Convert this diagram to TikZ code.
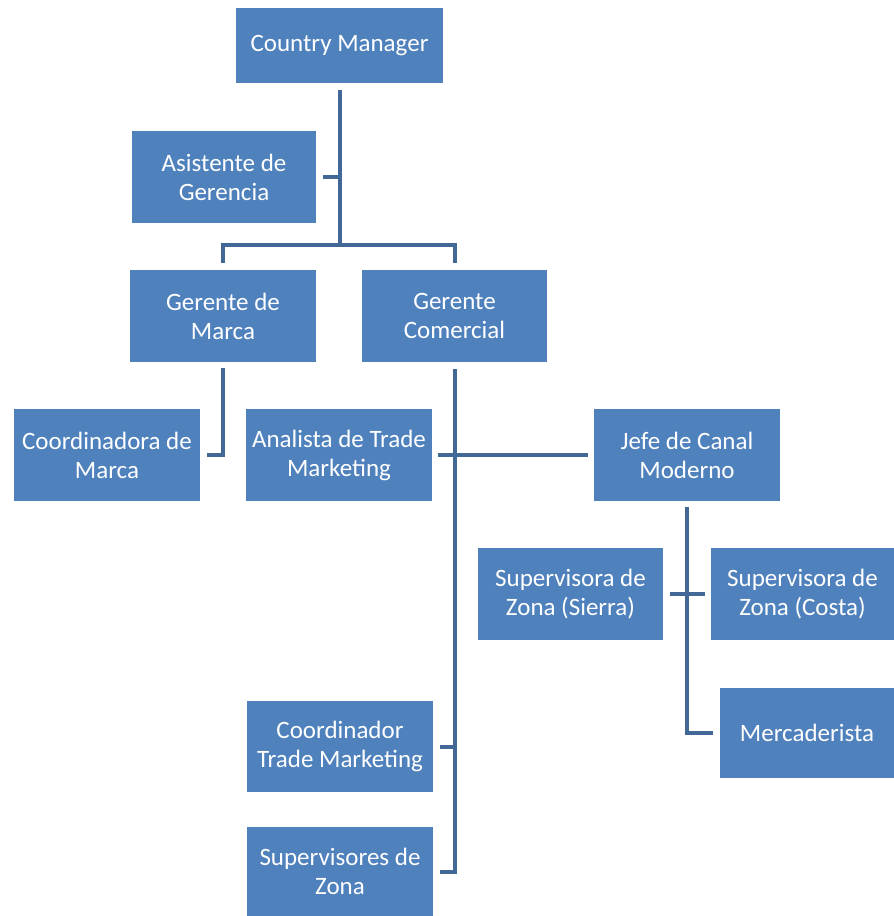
\documentclass[tikz,border=0pt]{standalone}
\usepackage{fontspec}
\setmainfont{Carlito}
\usepackage{tikz}
\usetikzlibrary{calc}
\definecolor{org_box}{RGB}{79, 129, 189}
\definecolor{org_line}{RGB}{66, 104, 152}
\tikzstyle{ob}=[rectangle,fill=org_box,draw=none,text=white,align=center,
  inner sep=0pt,minimum width=186pt,minimum height=92pt,
  font=\fontsize{25}{29}\selectfont]
\tikzstyle{ol}=[draw=org_line,line width=4pt]

\begin{document}
\begin{tikzpicture}[x=1pt, y=-1pt]
        \useasboundingbox (0,0) rectangle (894,916);
        \node[style=ob, minimum width=207pt, minimum height=75pt] (cm) at (339.5,45.5) {Country Manager};
        \node[style=ob, minimum width=184pt] (ag) at (224,177) {Asistente de\\Gerencia};
        \node[style=ob] (gm) at (223,316) {Gerente de\\Marca};
        \node[style=ob, minimum width=185pt] (gc) at (454.5,316) {Gerente\\Comercial};
        \node[style=ob] (cdm) at (107,455) {Coordinadora de\\Marca};
        \node[style=ob] (atm) at (339,455) {Analista de Trade\\Marketing};
        \node[style=ob] (jcm) at (687,455) {Jefe de Canal\\Moderno};
        \node[style=ob, minimum width=185pt] (szs) at (570.5,594) {Supervisora de\\Zona (Sierra)};
        \node[style=ob, minimum width=183pt] (szc) at (802.5,594) {Supervisora de\\Zona (Costa)};
        \node[style=ob, minimum width=174pt, minimum height=90pt] (mer) at (807,733) {Mercaderista};
        \node[style=ob, minimum height=91pt] (ctm) at (340,746.5) {Coordinador\\Trade Marketing};
        \node[style=ob, minimum height=89pt] (sdz) at (340,871.5) {Supervisores de\\Zona};
        \coordinate (bar) at (339.5,245);
        \draw[style=ol, shorten <=7pt] (cm.south) to (bar);
        \draw[style=ol, shorten <=7pt] (ag.east) to (ag.east -| bar);
        \draw[style=ol, shorten >=7pt] (bar) -| (gm.north);
        \draw[style=ol, shorten >=7pt] (bar) -| (gc.north);
        \draw[style=ol, shorten <=6pt, shorten >=7pt] (gm.south) |- (cdm.east);
        \draw[style=ol, shorten <=7pt, shorten >=7pt] (gc.south) |- (sdz.east);
        \draw[style=ol, shorten <=7pt] (ctm.east) to (ctm.east -| gc.south);
        \draw[style=ol, shorten <=6pt, shorten >=6pt] (atm.east) to (jcm.west);
        \draw[style=ol, shorten <=6pt, shorten >=7pt] (jcm.south) |- (mer.west);
        \draw[style=ol, shorten <=7pt, shorten >=6pt] (szs.east) to (szc.west);
\end{tikzpicture}
\end{document}
